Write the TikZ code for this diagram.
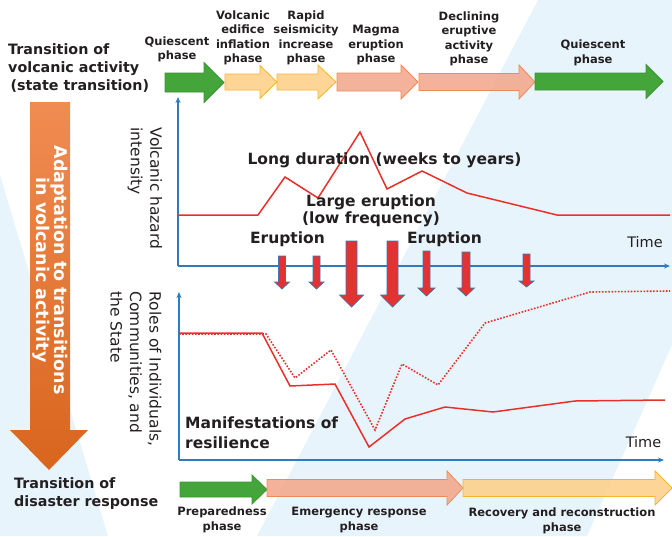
\documentclass[tikz,border=0pt]{standalone}
\usepackage{fontspec}
\setmainfont{DejaVu Sans}
\usetikzlibrary{arrows.meta}

\definecolor{band}{HTML}{E8F4FC}
\definecolor{axisblue}{HTML}{2E7BC0}
\definecolor{curvered}{HTML}{E8302B}
\definecolor{txt}{HTML}{231F20}
\definecolor{grnfill}{HTML}{44A53A}
\definecolor{grnline}{HTML}{3A9632}
\definecolor{ylwfill}{HTML}{FDD18C}
\definecolor{ylwline}{HTML}{F5B52E}
\definecolor{salfill}{HTML}{F2AA8E}
\definecolor{salline}{HTML}{EE8A5A}
\definecolor{erfill}{HTML}{E23232}
\definecolor{erline}{HTML}{3A78B0}
\definecolor{orgtop}{HTML}{F08C52}
\definecolor{orgbot}{HTML}{D9651E}

% horizontal block arrow: style, tail x, head base x, tip x, mid y, body half height, head half height
\newcommand{\phasearrow}[7]{%
  \path[#1] ({#2},{#5-#6}) -- ({#3},{#5-#6}) -- ({#3},{#5-#7}) -- ({#4},{#5})
    -- ({#3},{#5+#7}) -- ({#3},{#5+#6}) -- ({#2},{#5+#6}) -- cycle;}

% downward eruption arrow: centre x, top y, shaft half width, head half width, head base y, tip y
\newcommand{\eruptarrow}[6]{%
  \path[eruptstyle] ({#1-#3},{#2}) -- ({#1+#3},{#2}) -- ({#1+#3},{#5}) -- ({#1+#4},{#5})
    -- ({#1},{#6}) -- ({#1-#4},{#5}) -- ({#1-#3},{#5}) -- cycle;}

\tikzset{
  greenarrow/.style={fill=grnfill, draw=grnline, line width=0.8pt},
  yellowarrow/.style={fill=ylwfill, fill opacity=0.9, draw=ylwline, line width=0.8pt},
  salmonarrow/.style={fill=salfill, fill opacity=0.9, draw=salline, line width=0.8pt},
  eruptstyle/.style={fill=erfill, draw=erline, line width=0.7pt},
  axisline/.style={draw=axisblue, line width=1.3pt, -{Stealth[length=6pt,width=5pt]}},
  curve/.style={draw=curvered, line width=1.5pt, line join=miter},
  dotcurve/.style={draw=curvered, line width=1.6pt, dash pattern=on 1.6pt off 1.6pt},
  txtnode/.style={inner sep=0pt, text=txt},
  headline/.style={txtnode, align=left, font=\fontsize{14.3}{18}\selectfont\bfseries},
  phaselabel/.style={txtnode, align=center, font=\fontsize{11.5}{14.5}\selectfont\bfseries},
  biglabel/.style={txtnode, align=center, font=\fontsize{15.5}{17}\selectfont\bfseries},
  axislabel/.style={txtnode, align=left, rotate=-90, font=\fontsize{15.5}{19.5}\selectfont},
  timelabel/.style={txtnode, font=\fontsize{14.5}{17}\selectfont},
}

\begin{document}
\begin{tikzpicture}[x=1pt, y=-1pt]
  \useasboundingbox (0,0) rectangle (672,536);

  % pale blue background bands
  \fill[band] (538,0) -- (672,0) -- (672,345) -- (587,536) -- (257,536) -- cycle;
  \fill[band] (0,175) -- (108,536) -- (0,536) -- cycle;

  % large orange arrow on the left
  \shade[top color=orgtop, bottom color=orgbot]
    (30,102) -- (70,102) -- (70,430) -- (88,430) -- (49,470) -- (10,430) -- (30,430) -- cycle;
  \node[txtnode, text=white, rotate=-90, align=center,
        font=\fontsize{17.5}{15}\selectfont\bfseries] (adapt) at (50,270)
    {Adaptation to transitions\\in volcanic activity};

  % headings
  \node[headline, anchor=west] (volctitle) at (8,68)
    {Transition of\\volcanic activity\\\,(state transition)};
  \node[headline, anchor=west] (disastertitle) at (14,494)
    {Transition of\\disaster response};

  % volcanic activity phases
  \phasearrow{greenarrow}{165}{204}{224}{82.5}{9.5}{20}
  \phasearrow{yellowarrow}{225}{260}{277}{82}{8}{16.5}
  \phasearrow{yellowarrow}{277}{318}{336}{82}{8}{17}
  \phasearrow{salmonarrow}{337}{401}{418}{82}{9}{17}
  \phasearrow{salmonarrow}{419}{519}{535}{82}{8.5}{17}
  \phasearrow{greenarrow}{535}{646}{663}{81.5}{8.5}{17}

  \node[phaselabel] (q1) at (177,49.3) {Quiescent\\phase};
  \node[phaselabel] (infl) at (243,38) {Volcanic\\edifice\\inflation\\phase};
  \node[phaselabel] (seis) at (306,38) {Rapid\\seismicity\\increase\\phase};
  \node[phaselabel] (magma) at (376,45.5) {Magma\\eruption\\phase};
  \node[phaselabel] (decl) at (469,39) {Declining\\eruptive\\activity\\phase};
  \node[phaselabel] (q2) at (593,53) {Quiescent\\phase};

  % upper chart: volcanic hazard intensity
  \coordinate (o1) at (178,266);
  \coordinate (y1) at (178,97);
  \coordinate (x1) at (670,266);
  \draw[axisline] (o1) -- (y1);
  \draw[axisline] (o1) -- (x1);
  \node[axislabel] (hazard) at (145,188.5) {Volcanic hazard\\intensity};

  \draw[curve] (178,215) -- (258,215) -- (285,177) -- (318,198) -- (360,132)
    -- (387,189) -- (422,171) -- (467,193) -- (557,215) -- (670,215);

  \node[biglabel] (longdur) at (384.5,160) {Long duration (weeks to years)};
  \node[biglabel] (large) at (371,210.5) {Large eruption\\(low frequency)};
  \node[biglabel] (erupt1) at (287.5,239) {Eruption};
  \node[biglabel] (erupt2) at (444.5,239) {Eruption};
  \node[timelabel] (time1) at (645,242) {Time};

  % eruptions
  \eruptarrow{282}{256}{3.5}{7.5}{282}{289}
  \eruptarrow{316.5}{256}{3.5}{7.5}{282}{289}
  \eruptarrow{351.5}{241}{5.5}{12}{295}{307}
  \eruptarrow{392.5}{241}{5.5}{12}{295}{307}
  \eruptarrow{426.5}{251}{3.5}{8.5}{288}{296}
  \eruptarrow{466}{252}{4}{8.5}{288}{296}
  \eruptarrow{526.5}{254}{3.5}{7.5}{281}{287}

  % lower chart: roles of individuals, communities and the State
  \coordinate (o2) at (179,460);
  \coordinate (y2) at (179,292);
  \coordinate (x2) at (664,460);
  \draw[axisline] (o2) -- (y2);
  \draw[axisline] (o2) -- (x2);
  \node[axislabel] (roles) at (136,369) {Roles of Individuals,\\Communities, and\\the State};

  \draw[dotcurve] (179,334) -- (266,334) -- (295,378) -- (331,350) -- (375,430)
    -- (402,364) -- (438,385) -- (485,323) -- (590,292) -- (670,291);
  \draw[curve] (179,333) -- (262,333) -- (290,386) -- (335,384) -- (369,447)
    -- (405,419) -- (445,407) -- (493,412) -- (575,401) -- (665,400);

  \node[biglabel, align=left, anchor=west, font=\fontsize{15.5}{20}\selectfont\bfseries]
    (resil) at (185,433) {Manifestations of\\resilience};
  \node[timelabel] (time2) at (643.5,442) {Time};

  % disaster response phases
  \phasearrow{greenarrow}{180}{252}{267}{489.5}{7.5}{14.5}
  \phasearrow{salmonarrow}{267}{447}{463}{488}{8.5}{17}
  \phasearrow{yellowarrow}{463}{655}{672}{488}{8.5}{17}

  \node[phaselabel] (prep) at (222,520) {Preparedness\\phase};
  \node[phaselabel] (emerg) at (359,520) {Emergency response\\phase};
  \node[phaselabel] (recov) at (562,521) {Recovery and reconstruction\\phase};
\end{tikzpicture}
\end{document}
